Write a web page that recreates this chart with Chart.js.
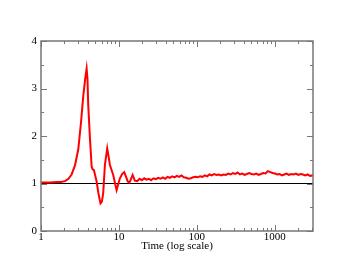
<!DOCTYPE html>
<html>
<head>
<meta charset="utf-8">
<script src="https://cdn.jsdelivr.net/npm/chart.js@4/dist/chart.umd.min.js"></script>
<style>
  html, body { margin: 0; padding: 0; background: #fff; }
  #wrap { width: 352px; height: 272px; }
</style>
</head>
<body>
<div id="wrap"><canvas id="chart"></canvas></div>
<script>
// data
var times = [1, 1.3, 1.6, 1.8, 2.03, 2.25, 2.47, 2.73, 3.01, 3.26, 3.49, 3.7, 3.85, 3.95, 4.04, 4.25, 4.47, 4.6, 4.78,
  5.18, 5.45, 5.8, 6.05, 6.29, 6.61, 7.08, 7.4, 7.67, 8.45, 9.34, 10.3, 11.0, 11.7, 12.3, 13.0, 13.6, 14.2,
  15, 16, 17.2, 18.4, 19.7, 21.1, 22.6, 24.2, 25.9, 27.8, 29.8, 31.9, 34.2, 36.6, 39.2, 42, 45, 48.2, 51.7,
  55.4, 59.3, 63.6, 68.1, 73, 78.2, 83.8, 89.8, 96.2, 103, 110, 118, 127, 136, 145, 156, 167, 179, 192, 205,
  220, 236, 253, 271, 290, 311, 333, 357, 383, 410, 439, 470, 504, 540, 579, 620, 664, 712, 763, 817, 876,
  938, 1005, 1077, 1154, 1236, 1325, 1419, 1521, 1630, 1746, 1871, 2005, 2148, 2302, 2466, 2643, 2832, 3034, 3100];
var values = [1.02, 1.02, 1.03, 1.03, 1.05, 1.10, 1.19, 1.38, 1.72, 2.28, 2.85, 3.22, 3.42, 3.20, 2.65, 1.95, 1.35, 1.30, 1.28,
  1.04, 0.80, 0.58, 0.62, 0.80, 1.39, 1.74, 1.55, 1.39, 1.18, 0.86, 1.11, 1.20, 1.24, 1.15, 1.04, 1.02, 1.08,
  1.18, 1.06, 1.05, 1.10, 1.07, 1.11, 1.08, 1.10, 1.07, 1.11, 1.09, 1.12, 1.10, 1.13, 1.10, 1.14, 1.12, 1.15, 1.13,
  1.16, 1.14, 1.17, 1.13, 1.12, 1.10, 1.11, 1.13, 1.14, 1.13, 1.15, 1.14, 1.17, 1.15, 1.19, 1.17, 1.20, 1.18, 1.19, 1.17,
  1.19, 1.18, 1.21, 1.19, 1.22, 1.20, 1.23, 1.19, 1.21, 1.18, 1.20, 1.22, 1.20, 1.19, 1.21, 1.18, 1.20, 1.22, 1.21, 1.26, 1.24,
  1.22, 1.21, 1.19, 1.20, 1.17, 1.19, 1.21, 1.18, 1.20, 1.19, 1.21, 1.18, 1.20, 1.19, 1.17, 1.19, 1.16, 1.17, 1.16];
var refLine = [{ x: 1, y: 1 }, { x: 3100, y: 1 }];

var xTickLabels = [1, 10, 100, 1000];
var xMinorTicks = [2, 3, 4, 5, 6, 7, 8, 9, 20, 30, 40, 50, 60, 70, 80, 90,
  200, 300, 400, 500, 600, 700, 800, 900, 2000, 3000];
var yTickLabels = [0, 1, 2, 3, 4];
var yMinorTicks = [0.5, 1.5, 2.5, 3.5];

var points = times.map(function(t, i) { return { x: t, y: values[i] }; });

// frame with inward ticks, grace style
var framePlugin = {
  id: 'frame',
  afterDraw: function(chart) {
    var ctx = chart.ctx, a = chart.chartArea;
    var xs = chart.scales.x, ys = chart.scales.y;
    ctx.save();
    ctx.strokeStyle = '#777';
    ctx.lineWidth = 1.5;
    ctx.strokeRect(a.left, a.top, a.right - a.left, a.bottom - a.top);
    ctx.lineWidth = 1;
    ctx.beginPath();
    function xt(v, len) {
      var p = Math.round(xs.getPixelForValue(v)) + 0.5;
      ctx.moveTo(p, a.bottom); ctx.lineTo(p, a.bottom - len);
      ctx.moveTo(p, a.top); ctx.lineTo(p, a.top + len);
    }
    function yt(v, len) {
      var p = Math.round(ys.getPixelForValue(v)) + 0.5;
      ctx.moveTo(a.left, p); ctx.lineTo(a.left + len, p);
      ctx.moveTo(a.right, p); ctx.lineTo(a.right - len, p);
    }
    xTickLabels.forEach(function(v) { xt(v, 6); });
    xMinorTicks.forEach(function(v) { xt(v, 3); });
    yTickLabels.forEach(function(v) { yt(v, 6); });
    yMinorTicks.forEach(function(v) { yt(v, 3); });
    ctx.stroke();
    ctx.restore();
  }
};

var ctx = document.getElementById('chart').getContext('2d');
var myChart = new Chart(ctx, {
  type: 'line',
  data: {
    datasets: [
      {
        data: points,
        borderColor: '#ff0000',
        borderWidth: 2,
        pointRadius: 0,
        tension: 0
      },
      {
        data: refLine,
        borderColor: '#000000',
        borderWidth: 1,
        pointRadius: 0,
        tension: 0
      }
    ]
  },
  options: {
    responsive: true,
    maintainAspectRatio: false,
    animation: false,
    layout: { padding: { left: 0, right: 39, top: 41, bottom: 0 } },
    plugins: {
      legend: { display: false },
      tooltip: { enabled: false }
    },
    scales: {
      x: {
        type: 'logarithmic',
        min: 1,
        max: 3100,
        grid: { display: false, drawTicks: false },
        border: { display: false },
        afterBuildTicks: function(s) {
          s.ticks = xTickLabels.map(function(v) { return { value: v }; });
        },
        afterFit: function(s) { s.height = 41; },
        ticks: {
          autoSkip: false,
          maxRotation: 0,
          padding: 0,
          color: '#000',
          font: { family: 'Liberation Serif', size: 11 },
          callback: function(v) { return String(v); }
        },
        title: {
          display: true,
          text: 'Time (log scale)',
          color: '#000',
          padding: { top: 0, bottom: 19 },
          font: { family: 'Liberation Serif', size: 11 }
        }
      },
      y: {
        min: 0,
        max: 4,
        grid: { display: false, drawTicks: false },
        border: { display: false },
        afterBuildTicks: function(s) {
          s.ticks = yTickLabels.map(function(v) { return { value: v }; });
        },
        afterFit: function(s) { s.width = 41; },
        ticks: {
          padding: 4,
          color: '#000',
          font: { family: 'Liberation Serif', size: 11 }
        }
      }
    }
  },
  plugins: [framePlugin]
});
</script>
</body>
</html>
